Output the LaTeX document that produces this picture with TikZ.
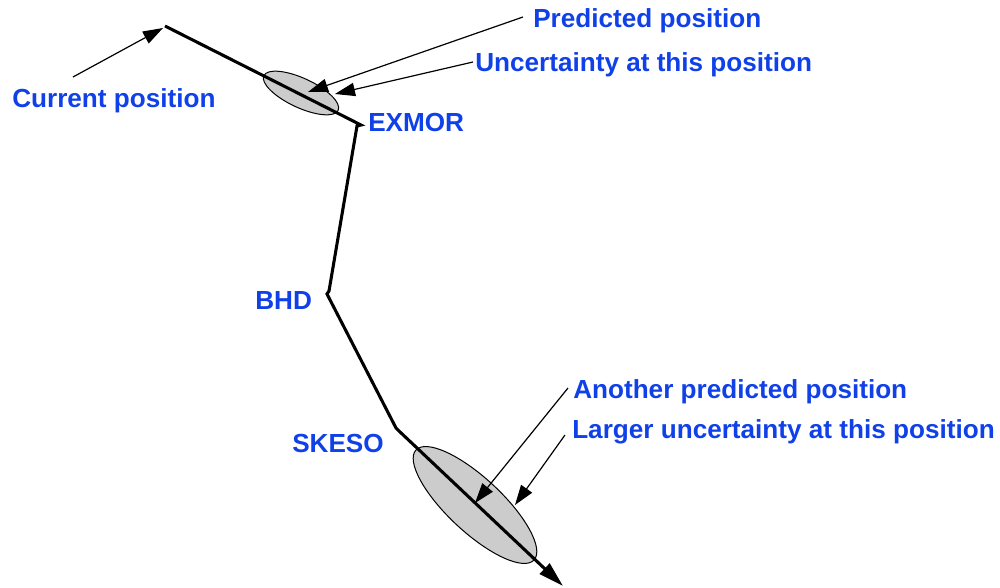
\documentclass[tikz,border=0pt]{standalone}
\usepackage{fontspec}
\setmainfont{Liberation Sans}
\usetikzlibrary{arrows.meta,shapes.geometric}
\definecolor{lblue}{RGB}{16,64,232}
\definecolor{ellgray}{RGB}{204,204,204}
\begin{document}
\begin{tikzpicture}[x=0.75pt,y=-0.75pt,
  lbl/.style={font=\bfseries\fontsize{19.6}{22}\selectfont, text=lblue, anchor=base west, inner sep=0pt},
  route/.style={line width=2.3pt, line join=miter, -{Triangle[length=19pt,width=10.5pt]}},
  ptr/.style={line width=0.9pt, -{Triangle[length=15pt,width=10pt]}},
  unc/.style={ellipse, fill=ellgray, draw=black, line width=0.75pt, inner sep=0pt}]
\useasboundingbox (0,0) rectangle (1000,588);

% uncertainty ellipses
\node[unc, minimum width=61.5pt, minimum height=22pt, rotate=-25] (ellA) at (301,93) {};
\node[unc, minimum width=121pt, minimum height=40.5pt, rotate=-43] (ellB) at (475,505) {};

% route waypoints
\coordinate (start) at (165,26);
\coordinate (exmorA) at (361,125);
\coordinate (exmorB) at (357,126);
\coordinate (bhdA) at (329,291);
\coordinate (bhdB) at (327,294);
\coordinate (skesoA) at (396,428);
\coordinate (skesoB) at (399,431);
\coordinate (finish) at (563,586);
\draw[route] (start) -- (exmorA) -- (exmorB) -- (bhdA) -- (bhdB) -- (skesoA) -- (skesoB) -- (finish);

% labels
\node[lbl] (cur) at (12,108) {Current position};
\node[lbl] (pred) at (533,28) {Predicted position};
\node[lbl] (unct) at (475,72) {Uncertainty at this position};
\node[lbl] (exmor) at (368,132) {EXMOR};
\node[lbl] (bhd) at (255,309) {BHD};
\node[lbl] (skeso) at (292,452) {SKESO};
\node[lbl] (anoth) at (573,398) {Another predicted position};
\node[lbl] (larger) at (572,438) {Larger uncertainty at this position};

% pointer ends
\coordinate (curS) at (73,77);
\coordinate (curT) at (163,28);
\coordinate (predS) at (523,17);
\coordinate (predT) at (308,92);
\coordinate (unctS) at (473,62);
\coordinate (unctT) at (335,94);
\coordinate (anothS) at (568,388);
\coordinate (anothT) at (475,503);
\coordinate (largerS) at (565,435);
\coordinate (largerT) at (515,505);

\draw[ptr] (curS) -- (curT);
\draw[ptr] (predS) -- (predT);
\draw[ptr] (unctS) -- (unctT);
\draw[ptr] (anothS) -- (anothT);
\draw[ptr] (largerS) -- (largerT);
\end{tikzpicture}
\end{document}
